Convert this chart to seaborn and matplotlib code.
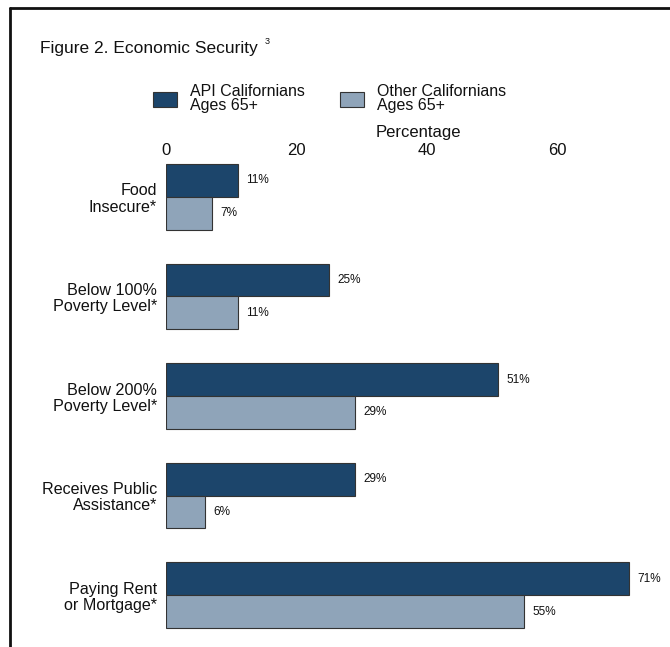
import matplotlib
matplotlib.use("Agg")
import matplotlib.pyplot as plt
from matplotlib.lines import Line2D
import seaborn as sns
import pandas as pd

categories = ["Food\nInsecure*", "Below 100%\nPoverty Level*", "Below 200%\nPoverty Level*",
              "Receives Public\nAssistance*", "Paying Rent\nor Mortgage*"]
groups = ["API Californians\nAges 65+", "Other Californians\nAges 65+"]
api_values = [11, 25, 51, 29, 71]
other_values = [7, 11, 29, 6, 55]
x_ticks = [0, 20, 40, 60]

df = pd.DataFrame({
    "category": categories * 2,
    "group": [groups[0]] * len(categories) + [groups[1]] * len(categories),
    "value": api_values + other_values,
})

sns.set_theme(style="white")
plt.rcParams["font.family"] = ["Liberation Sans", "DejaVu Sans"]

W, H = 670, 647
fig = plt.figure(figsize=(W / 100, H / 100), dpi=100)
ax_left, ax_right = 166, 670
ax_top, ax_bot = 162, 647
ax = fig.add_axes([ax_left / W, 1 - ax_bot / H, (ax_right - ax_left) / W, (ax_bot - ax_top) / H])

sns.barplot(data=df, y="category", x="value", hue="group", orient="h", ax=ax,
            palette=["#1c456b", "#8fa4b9"], width=0.66, edgecolor="#333333",
            linewidth=0.8, saturation=1, order=categories, hue_order=groups)

px_per_unit = (557 - 166) / 60
ax.set_xlim(0, (ax_right - ax_left) / px_per_unit)
ax.set_ylim(4.52, -0.35)
ax.xaxis.tick_top()
ax.xaxis.set_label_position("top")
ax.set_xticks(x_ticks)
ax.set_xticklabels([str(t) for t in x_ticks], fontsize=12, color="#111111")
ax.set_xlabel("Percentage", fontsize=12, color="#111111", labelpad=4)
ax.set_ylabel("")
ax.tick_params(axis="x", length=0, pad=3)
ax.tick_params(axis="y", length=0, pad=6.5)
for lab in ax.get_yticklabels():
    lab.set_fontsize(11.6)
    lab.set_color("#111111")
    lab.set_horizontalalignment("right")
    lab.set_multialignment("right")
    lab.set_linespacing(1.1)
for s in ax.spines.values():
    s.set_visible(False)

for cont, vals in zip(ax.containers, [api_values, other_values]):
    ax.bar_label(cont, labels=[f"{v}%" for v in vals], padding=6, fontsize=8.5, color="#111111")

handles, labels = ax.get_legend_handles_labels()
ax.get_legend().remove()
leg = fig.legend(handles, labels, loc="upper left", bbox_to_anchor=(139 / W, 1 - 70 / H),
                 ncol=2, frameon=False, fontsize=11.5, handlelength=1.5, handleheight=1.1,
                 handletextpad=0.8, columnspacing=2.2)
for t in leg.get_texts():
    t.set_linespacing(0.9)
    t.set_color("#111111")

fig.text(40 / W, 1 - 48 / H, "Figure 2. Economic Security", fontsize=12.5, va="center", ha="left", color="#111111")
fig.text(265 / W, 1 - 41 / H, "3", fontsize=6.5, va="center", ha="left", color="#111111")

# frame lines
fig.add_artist(Line2D([10 / W, 1.0], [1 - 8 / H, 1 - 8 / H], color="#111111", linewidth=2, transform=fig.transFigure))
fig.add_artist(Line2D([10 / W, 10 / W], [1 - 8 / H, 0], color="#111111", linewidth=2, transform=fig.transFigure))

fig.savefig("out.png", dpi=100)
